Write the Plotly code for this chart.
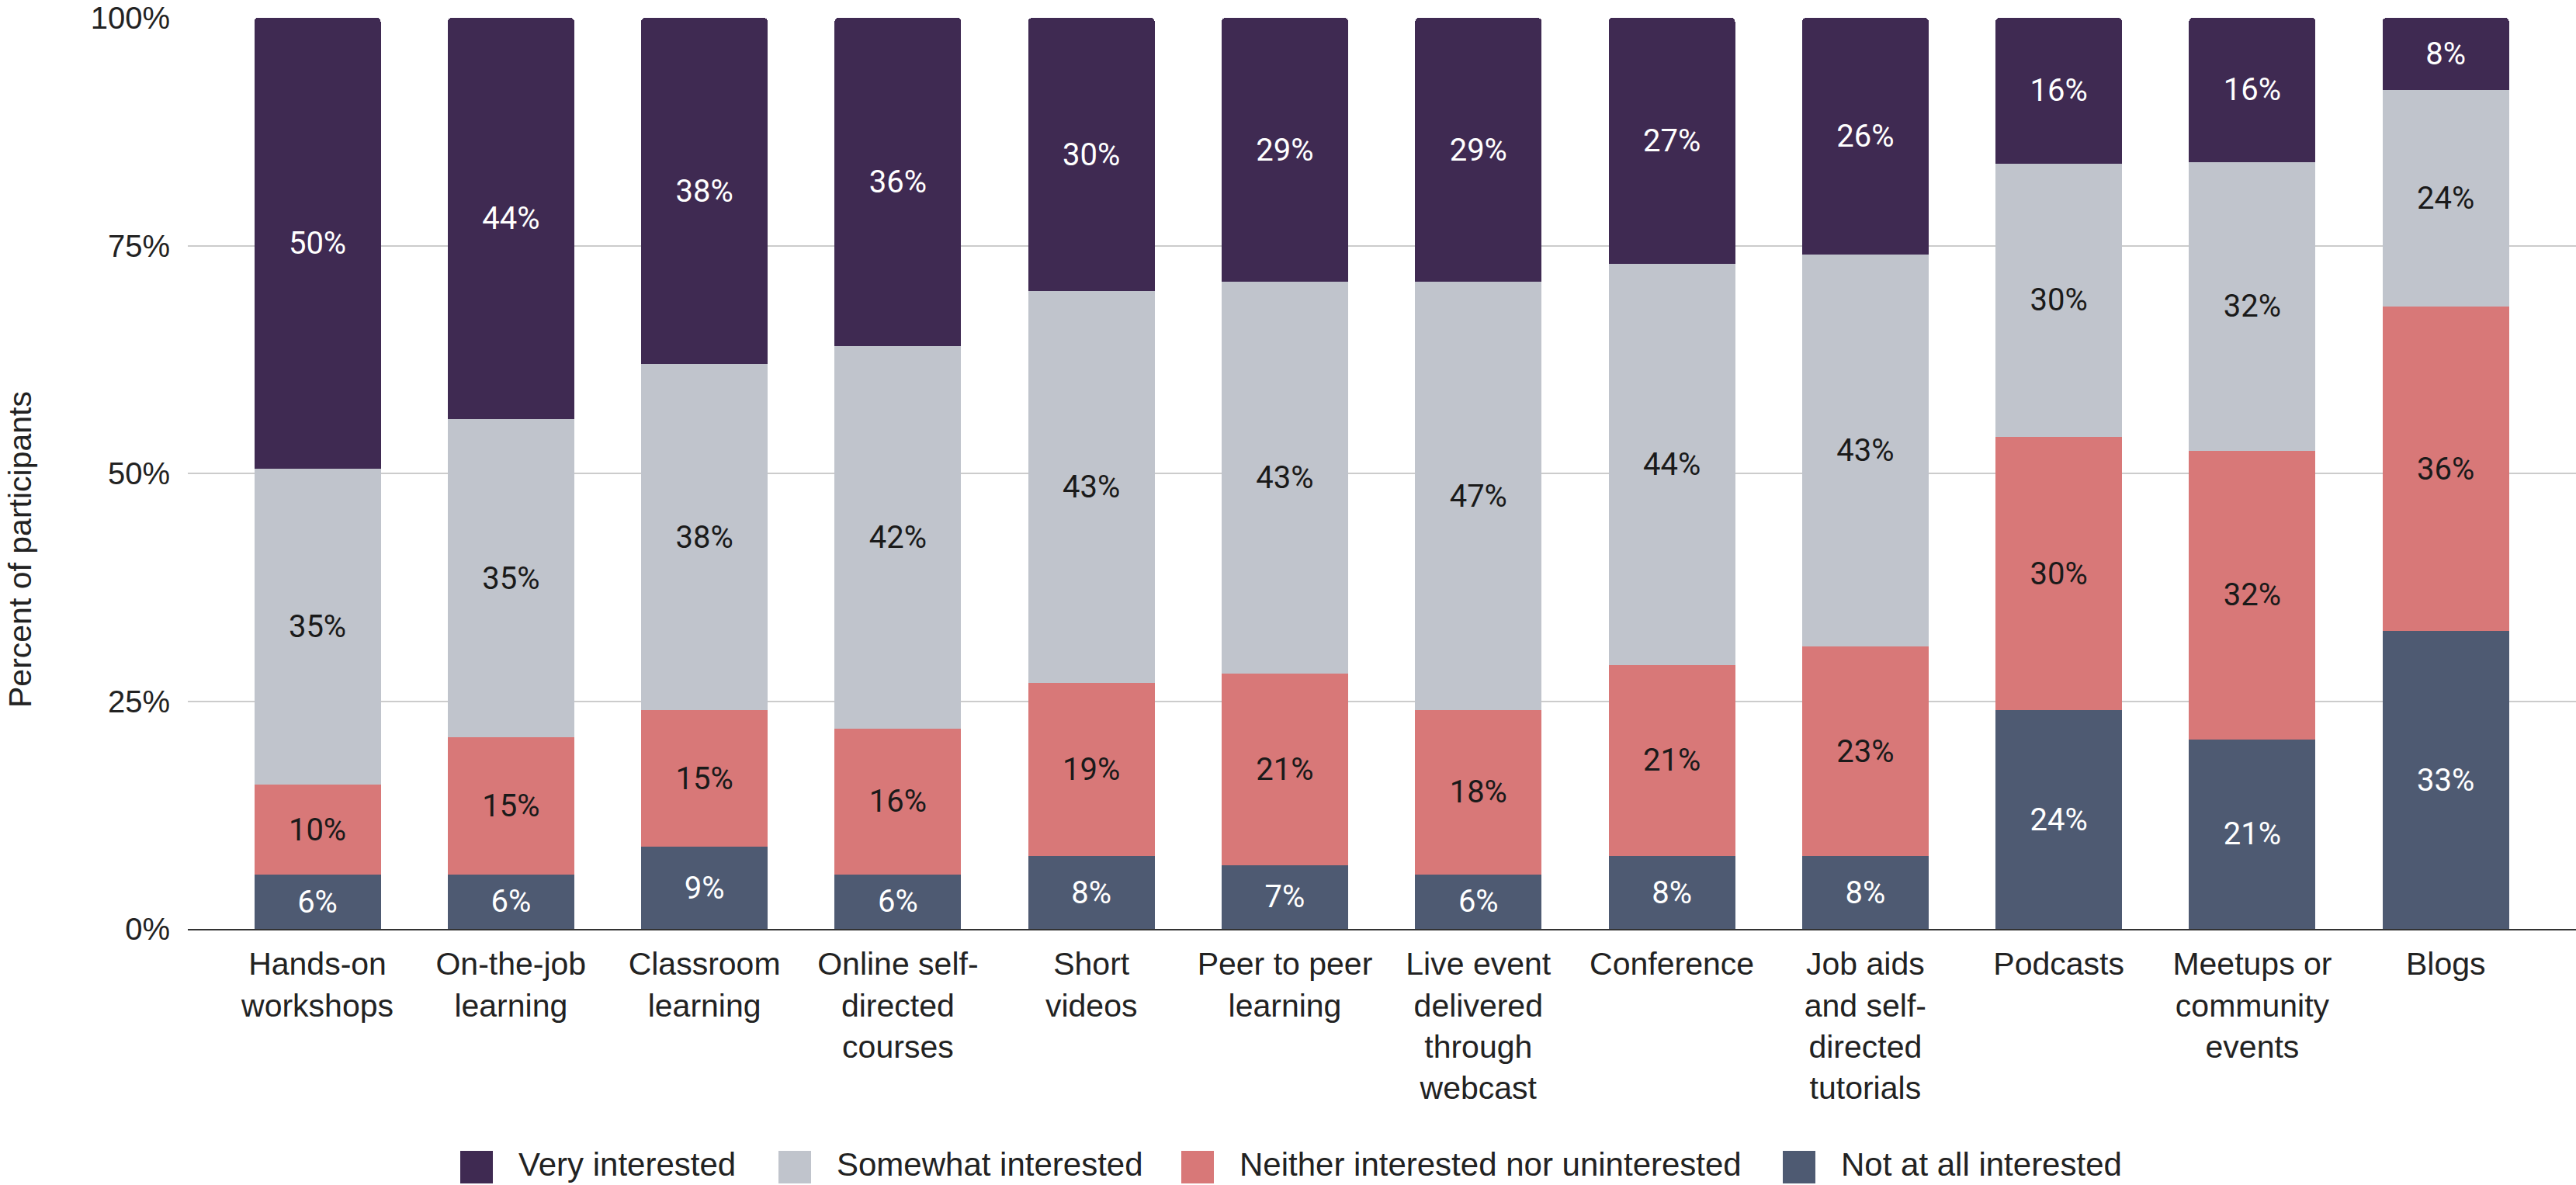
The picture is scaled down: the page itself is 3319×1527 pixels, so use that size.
import plotly.graph_objects as go

# ---------------- data ----------------
categories = [
    "Hands-on<br>workshops",
    "On-the-job<br>learning",
    "Classroom<br>learning",
    "Online self-<br>directed<br>courses",
    "Short<br>videos",
    "Peer to peer<br>learning",
    "Live event<br>delivered<br>through<br>webcast",
    "Conference",
    "Job aids<br>and self-<br>directed<br>tutorials",
    "Podcasts",
    "Meetups or<br>community<br>events",
    "Blogs",
]
very_interested = [50, 44, 38, 36, 30, 29, 29, 27, 26, 16, 16, 8]
somewhat_interested = [35, 35, 38, 42, 43, 43, 47, 44, 43, 30, 32, 24]
neither = [10, 15, 15, 16, 19, 21, 18, 21, 23, 30, 32, 36]
not_at_all = [6, 6, 9, 6, 8, 7, 6, 8, 8, 24, 21, 33]

series_names = [
    "Very interested",
    "Somewhat interested",
    "Neither interested nor uninterested",
    "Not at all interested",
]
series_values = [very_interested, somewhat_interested, neither, not_at_all]
y_ticks = [0, 25, 50, 75, 100]
y_tick_labels = ["0%", "25%", "50%", "75%", "100%"]
y_title = "Percent of participants"

# ---------------- style ----------------
colors = ["#3f2a52", "#c0c4cc", "#d87878", "#4e5a72"]
text_colors = ["#ffffff", "#1a1a1a", "#1a1a1a", "#ffffff"]
W, H = 3319, 1527
L, R, T, B = 242, 0, 23, 330
PW = W - L - R
PH = H - T - B
AX_FONT = "Liberation Sans, Arial, sans-serif"
VAL_FONT = "Roboto, sans-serif"


def px_x(px):
    return (px - L) / PW


def px_y(py):
    return (H - B - py) / PH


fig = go.Figure()
# stack from bottom up
for i in [3, 2, 1, 0]:
    vals = series_values[i]
    fig.add_trace(
        go.Bar(
            x=categories,
            y=vals,
            name=series_names[i],
            marker=dict(color=colors[i], line=dict(width=0)),
            text=[f"{v}%" for v in vals],
            textposition="inside",
            insidetextanchor="middle",
            textangle=0,
            textfont=dict(family=VAL_FONT, size=40, color=text_colors[i]),
            constraintext="none",
            showlegend=False,
        )
    )

# custom legend (large rounded squares like the original)
legend_square_left = [593, 1003, 1522, 2297]
legend_y = 1504
shapes = []
annotations = []
for i, name in enumerate(series_names):
    sx = legend_square_left[i]
    shapes.append(
        dict(
            type="rect",
            xref="paper",
            yref="paper",
            xsizemode="pixel",
            ysizemode="pixel",
            xanchor=px_x(sx + 21),
            yanchor=px_y(legend_y),
            x0=-21,
            x1=21,
            y0=-21,
            y1=21,
            fillcolor=colors[i],
            line=dict(width=0),
            layer="above",
        )
    )
    annotations.append(
        dict(
            text=name,
            xref="paper",
            yref="paper",
            x=px_x(sx + 73),
            y=px_y(1526),
            xanchor="left",
            yanchor="bottom",
            showarrow=False,
            font=dict(family=AX_FONT, size=42, color="#222222"),
        )
    )

annotations.append(
    dict(
        text=y_title,
        xref="paper",
        yref="paper",
        x=px_x(26),
        y=px_y(708),
        xanchor="center",
        yanchor="middle",
        textangle=-90,
        showarrow=False,
        font=dict(family=AX_FONT, size=41, color="#222222"),
    )
)

fig.update_layout(
    width=W,
    height=H,
    margin=dict(l=L, r=R, t=T, b=B, pad=0),
    barmode="stack",
    barnorm="percent",
    bargap=0.346,
    barcornerradius=5,
    plot_bgcolor="white",
    paper_bgcolor="white",
    showlegend=False,
    shapes=shapes,
    annotations=annotations,
    xaxis=dict(
        type="category",
        range=[-0.67, 11.673],
        showgrid=False,
        showline=True,
        linecolor="#333333",
        linewidth=2,
        ticks="",
        tickfont=dict(family=AX_FONT, size=41, color="#222222"),
        ticklabelstandoff=8,
    ),
    yaxis=dict(
        range=[0, 100],
        tickmode="array",
        tickvals=y_ticks,
        ticktext=y_tick_labels,
        showgrid=True,
        gridcolor="#cccccc",
        gridwidth=2,
        zeroline=False,
        showline=False,
        ticks="",
        tickfont=dict(family=AX_FONT, size=40, color="#222222"),
        ticklabelstandoff=22,
    ),
)

fig.write_html(
    "out.html",
    config={"displayModeBar": False},
    post_script="document.body.style.margin='0';document.body.style.padding='0';document.body.style.overflow='hidden';",
)
